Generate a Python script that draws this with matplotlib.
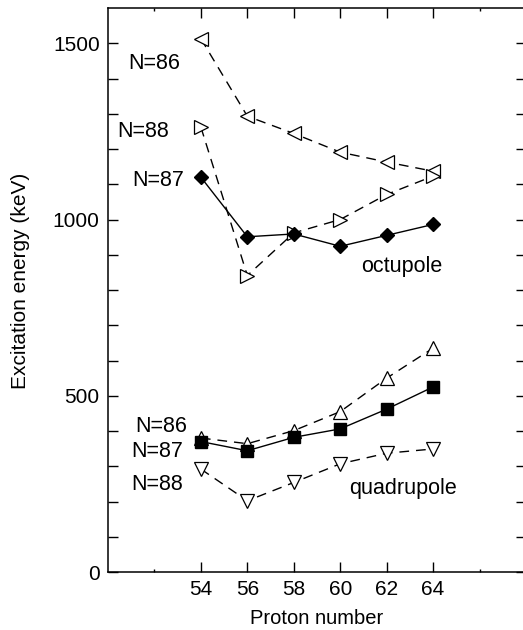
import matplotlib
matplotlib.use("Agg")
import matplotlib.pyplot as plt
import numpy as np

plt.rcParams['font.family'] = ['Liberation Sans', 'DejaVu Sans']

Z = [54, 56, 58, 60, 62, 64]

# octupole states
oct_86 = [1513, 1293, 1244, 1191, 1163, 1137]
oct_88 = [1262, 841, 962, 1000, 1071, 1123]
oct_87 = [1120, 951, 959, 924, 955, 986]

# quadrupole states
quad_86 = [380, 364, 401, 455, 550, 635]
quad_87 = [370, 344, 382, 406, 462, 525]
quad_88 = [292, 202, 254, 307, 337, 349]

fig = plt.figure(figsize=(5.23, 6.3), dpi=100)
ax = fig.add_axes([108/523, 1-572/630, (526-108)/523, (572-8)/630])

dash = (0, (7, 5))
ax.plot(Z, oct_86, linestyle=dash, color='k', lw=1, marker='<', ms=10,
        mfc='white', mec='k', mew=0.9)
ax.plot(Z, oct_88, linestyle=dash, color='k', lw=1, marker='>', ms=10,
        mfc='white', mec='k', mew=0.9)
ax.plot(Z, oct_87, linestyle='-', color='k', lw=1, marker='D', ms=7.5,
        mfc='k', mec='k')

ax.plot(Z, quad_86, linestyle=dash, color='k', lw=1, marker='^', ms=10,
        mfc='white', mec='k', mew=0.9)
ax.plot(Z, quad_88, linestyle=dash, color='k', lw=1, marker='v', ms=10,
        mfc='white', mec='k', mew=0.9)
ax.plot(Z, quad_87, linestyle='-', color='k', lw=1, marker='s', ms=8,
        mfc='k', mec='k')

fs = 15.5
ax.text(52.0, 1442, 'N=86', fontsize=fs, ha='center', va='center')
ax.text(51.5, 1250, 'N=88', fontsize=fs, ha='center', va='center')
ax.text(52.15, 1111, 'N=87', fontsize=fs, ha='center', va='center')
ax.text(62.65, 867, 'octupole', fontsize=fs, ha='center', va='center')

ax.text(52.3, 413, 'N=86', fontsize=fs, ha='center', va='center')
ax.text(52.1, 342, 'N=87', fontsize=fs, ha='center', va='center')
ax.text(52.1, 249, 'N=88', fontsize=fs, ha='center', va='center')
ax.text(62.7, 238, 'quadrupole', fontsize=fs, ha='center', va='center')

ax.set_xlim(50, 68)
ax.set_ylim(0, 1600)

ax.set_xticks(Z)
ax.set_xticks([52, 66], minor=True)
ax.set_yticks(np.arange(0, 1600, 100))
ax.set_yticklabels([str(v) if v % 500 == 0 else '' for v in range(0, 1600, 100)])

ax.tick_params(which='major', direction='in', top=True, right=True,
               length=7, width=1, labelsize=15, pad=6)
ax.tick_params(which='minor', direction='in', top=True, right=True,
               length=2, width=1)

for s in ax.spines.values():
    s.set_linewidth(1.1)

ax.set_xlabel('Proton number', fontsize=14.5, labelpad=7)
ax.set_ylabel('Excitation energy (keV)', fontsize=15)
ax.yaxis.set_label_coords(-0.187, 0.516)

fig.savefig('out.png', dpi=100)
